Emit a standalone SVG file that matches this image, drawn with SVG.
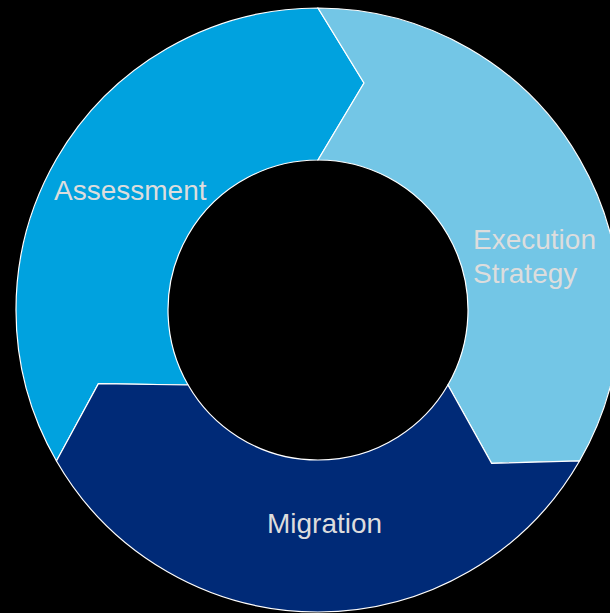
<svg xmlns="http://www.w3.org/2000/svg" width="610" height="613" viewBox="0 0 610 613">
  <style>
    .seg { stroke: #ffffff; stroke-width: 1.2; stroke-linejoin: miter; }
    .lbl { font-family: "Liberation Sans", Arial, sans-serif; font-size: 28px; fill: #DDDDDD; }
  </style>
  <rect x="0" y="0" width="610" height="613" fill="#000000"/>
  <g id="assessment">
    <path class="seg" fill="#00A2DF" d="M 56.46,461 A 302 302 0 0 1 318,8 L 364,83 L 318,160 A 150 150 0 0 0 188.1,385 L 98.4,383.7 Z"/>
    <text class="lbl" x="54" y="199.5">Assessment</text>
  </g>
  <g id="execution-strategy">
    <path class="seg" fill="#73C6E6" d="M 318,8 A 302 302 0 0 1 579.54,461 L 491.6,463.3 L 447.9,385 A 150 150 0 0 0 318,160 L 364,83 Z"/>
    <text class="lbl" x="473" y="249">Execution</text>
    <text class="lbl" x="473" y="282.5">Strategy</text>
  </g>
  <g id="migration">
    <path class="seg" fill="#002A77" d="M 579.54,461 A 302 302 0 0 1 56.46,461 L 98.4,383.7 L 188.1,385 A 150 150 0 0 0 447.9,385 L 491.6,463.3 Z"/>
    <text class="lbl" x="267" y="533">Migration</text>
  </g>
  <g id="connectors"></g>
</svg>
